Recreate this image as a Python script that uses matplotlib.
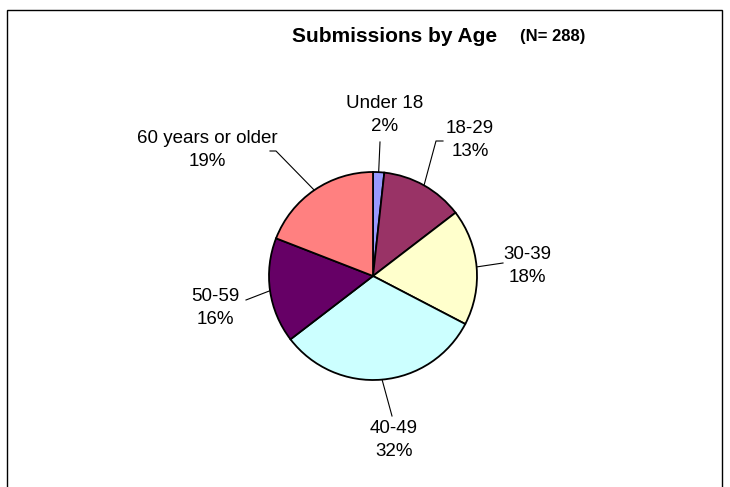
import matplotlib
matplotlib.use("Agg")
import matplotlib.pyplot as plt
import numpy as np
from matplotlib.patches import Rectangle

plt.rcParams["font.family"] = ["Liberation Sans", "DejaVu Sans"]

# submissions by age group (N = 288)
groups = ["Under 18", "18-29", "30-39", "40-49", "50-59", "60 years or older"]
counts = [5, 37, 52, 92, 47, 55]
colors = ["#9999FF", "#993366", "#FFFFCC", "#CCFFFF", "#660066", "#FF8080"]

W, H = 730, 487
# label anchors / leader-line ends in pixel coords (y from top)
label_pos = [(385, 115), (470, 140), (527, 266), (394, 440), (215, 308), (207, 150)]
leader_end = [(380, 142), (436, 141), (503, 263), (392, 416), (246, 300), (276, 151)]
leader_tail = [None, (443, 141), None, None, None, (270, 151)]

fig = plt.figure(figsize=(W / 100, H / 100), dpi=100)
ax = fig.add_axes([0, 0, 1, 1])

cx, cy, r = 373, H - 276, 104
wedges, _ = ax.pie(counts, colors=colors, startangle=90, counterclock=False,
                   center=(cx, cy), radius=r,
                   wedgeprops=dict(edgecolor="black", linewidth=1.3))
ax.set_xlim(0, W)
ax.set_ylim(0, H)
ax.set_aspect("equal")
ax.axis("off")

total = sum(counts)
for w, name, n, (lx, ly), (ex, ey), tail in zip(
        wedges, groups, counts, label_pos, leader_end, leader_tail):
    mid = np.deg2rad((w.theta1 + w.theta2) / 2)
    sx, sy = cx + r * np.cos(mid), cy + r * np.sin(mid)
    xs, ys = [sx, ex], [sy, H - ey]
    if tail is not None:
        xs.append(tail[0])
        ys.append(H - tail[1])
    ax.plot(xs, ys, color="black", linewidth=0.8)
    pct = round(100 * n / total)
    ax.text(lx, H - ly, f"{name}\n{pct}%", ha="center", va="center",
            fontsize=13.5, linespacing=1.5)

# chart frame (bottom edge runs past the image)
fig.patches.append(Rectangle((7 / W, -0.05), 715 / W, 1.05 - 10 / H,
                             transform=fig.transFigure, fill=False,
                             edgecolor="black", linewidth=1))

fig.text(395 / W, 1 - 36 / H, "Submissions by Age", ha="center", va="center",
         fontsize=15, fontweight="bold")
fig.text(553 / W, 1 - 37 / H, "(N= 288)", ha="center", va="center",
         fontsize=12, fontweight="bold")

fig.savefig("out.png", dpi=100)
